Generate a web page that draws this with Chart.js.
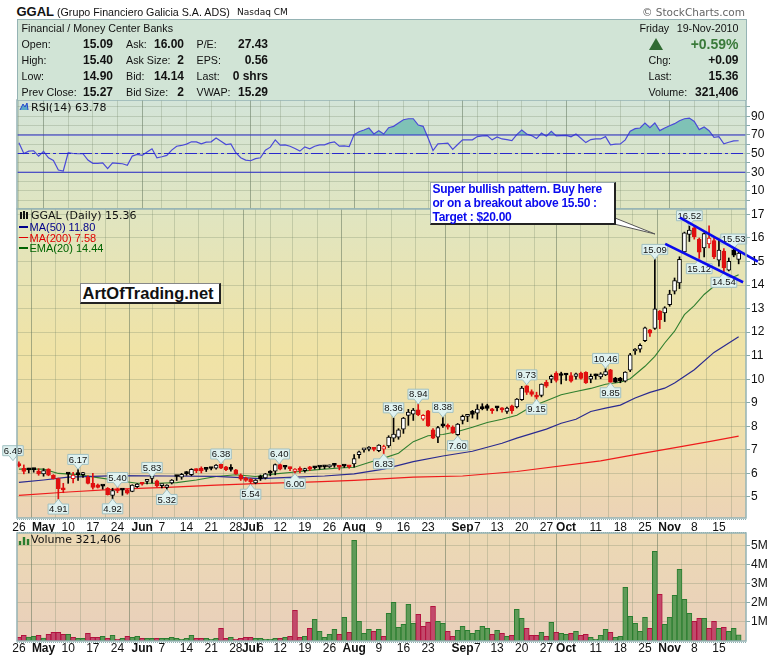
<!DOCTYPE html>
<html>
<head>
<meta charset="utf-8">
<title>GGAL</title>
<script src="https://cdn.jsdelivr.net/npm/chart.js@4"></script>
<style>
    html, body { margin: 0; padding: 0; background: #fff; }
    body { position: relative; width: 780px; height: 659px; overflow: hidden; font-family: "Liberation Sans", Arial, sans-serif; color: #111; }
    canvas { position: absolute; left: 0; }
    .t { position: absolute; white-space: nowrap; font-size: 10.7px; line-height: 14px; }
    .b { font-weight: bold; font-size: 12px; }
    .r { text-align: right; }
    .dv { font-family: "DejaVu Sans", sans-serif; }
    .dots { position: absolute; left: 17px; width: 729px; height: 0; border-top: 1px dotted #8fb0b0; }
</style>
</head>
<body>
<canvas id="rsi" width="780" height="130" style="top:90px"></canvas>
<canvas id="precio" width="780" height="335" style="top:199px"></canvas>
<canvas id="volumen" width="780" height="136" style="top:523px"></canvas>

<div class="dots" style="top:519px"></div>
<div class="dots" style="top:532px"></div>
<div class="dots" style="top:642px"></div>

<div id="cabecera"></div>

<div class="t dv" style="left:31px;top:101px;font-size:11px">RSI(14) 63.78</div>
<div class="t dv" style="left:31px;top:209px;font-size:11px">GGAL (Daily) 15.36</div>
<div class="t" style="left:29.5px;top:220px;font-size:11px;color:#00008b">MA(50) 11.80</div>
<div class="t" style="left:29.5px;top:230.5px;font-size:11px;color:#e00000">MA(200) 7.58</div>
<div class="t" style="left:29.5px;top:241px;font-size:11px;color:#006400">EMA(20) 14.44</div>
<div style="position:absolute;left:19px;top:226px;width:9px;height:1.5px;background:#00008b"></div>
<div style="position:absolute;left:19px;top:236.5px;width:9px;height:1.5px;background:#e00000"></div>
<div style="position:absolute;left:19px;top:247px;width:9px;height:1.5px;background:#006400"></div>
<div class="t dv" style="left:31px;top:533px;font-size:11px">Volume 321,406</div>

<svg style="position:absolute;left:0;top:0" width="780" height="659">
    <polyline points="20,110 23,104 25,107 27,103 28,110" fill="#5aa8c8" stroke="#2244cc" stroke-width="1"/>
    <path d="M21 212v7M24 211v8M27 212v7" stroke="#111" stroke-width="2"/>
    <path d="M20 545v-4M24 545v-8M28 545v-6" stroke="#2a7d2f" stroke-width="2.4"/>
    <polygon points="610,223 615,218 655,234" fill="#fff" stroke="#555" stroke-width="1"/>
</svg>

<div style="position:absolute;left:429.5px;top:181.5px;width:181px;height:40px;background:#fff;border:1px solid #9aa;border-right:2px solid #222;border-bottom:2px solid #222;padding:0 0 0 2px;color:#0a0aee;font-weight:bold;font-size:12px;letter-spacing:-0.28px;line-height:14px;white-space:nowrap"><div style="position:relative;top:-1px">Super bullish pattern. Buy here<br>or on a breakout above 15.50 :<br>Target : $20.00</div></div>
<div style="position:absolute;left:79.5px;top:282.5px;width:136px;height:18px;background:#fff;border:1px solid #888;border-right:2px solid #222;border-bottom:2px solid #222;font-weight:bold;font-size:16.5px;line-height:18px;padding-left:2px;white-space:nowrap;color:#111">ArtOfTrading.net</div>

<script>
// ==========================
// Datos
// ==========================

const opens = [
    6.38, 6.22, 6.20, 6.20, 6.10, 5.98, 6.18, 5.92, 5.78, 5.33,
    6.00, 5.78, 5.96, 5.95, 5.84, 5.58, 5.51, 5.47, 5.37, 5.07,
    5.33, 5.31, 5.30, 5.24, 5.44, 5.58, 5.66, 5.79, 5.68, 5.48,
    5.40, 5.60, 5.88, 5.84, 6.00, 5.95, 6.16, 6.23, 6.18, 6.22,
    6.22, 6.39, 6.28, 6.18, 6.15, 5.92, 5.80, 5.75, 5.60, 5.89,
    5.81, 6.03, 6.09, 6.38, 6.27, 6.22, 6.08, 6.15, 6.12, 6.28,
    6.25, 6.29, 6.29, 6.28, 6.35, 6.30, 6.32, 6.30, 6.40, 6.80,
    7.00, 7.03, 7.06, 6.97, 7.03, 7.17, 7.50, 7.54, 7.88, 8.46,
    8.52, 8.70, 8.30, 8.66, 7.85, 7.54, 8.03, 8.00, 7.96, 7.64,
    8.25, 8.42, 8.64, 8.56, 8.78, 8.88, 8.70, 8.80, 8.72, 8.63,
    8.87, 8.82, 9.13, 9.72, 9.48, 9.25, 9.31, 9.87, 10.00, 10.26,
    10.18, 10.20, 10.15, 10.12, 10.26, 10.29, 10.00, 10.15, 10.10, 10.18,
    10.40, 10.05, 10.05, 9.92, 10.38, 11.20, 11.28, 11.64, 12.10, 12.16,
    12.89, 12.82, 13.17, 13.74, 14.09, 15.41, 16.15, 16.43, 15.94, 15.58,
    15.75, 15.89, 15.06, 15.44, 14.63, 15.48, 15.09
];
const highs = [
    6.49, 6.36, 6.22, 6.22, 6.20, 6.20, 6.20, 5.95, 5.80, 5.58,
    6.02, 6.05, 6.17, 6.05, 5.90, 6.00, 5.55, 5.50, 5.40, 5.37,
    5.40, 5.33, 5.33, 5.52, 5.57, 5.60, 5.70, 5.83, 5.72, 5.52,
    5.52, 5.74, 5.92, 6.00, 6.08, 6.20, 6.20, 6.28, 6.20, 6.26,
    6.38, 6.40, 6.30, 6.38, 6.17, 5.98, 5.84, 5.78, 5.74, 5.93,
    6.00, 6.12, 6.40, 6.40, 6.30, 6.27, 6.20, 6.28, 6.22, 6.30,
    6.30, 6.30, 6.31, 6.36, 6.42, 6.33, 6.36, 6.32, 6.80, 6.95,
    7.04, 7.14, 7.08, 7.22, 7.20, 7.60, 8.36, 7.90, 8.38, 8.72,
    8.76, 8.94, 8.50, 8.68, 7.90, 8.00, 8.38, 8.10, 8.02, 8.12,
    8.48, 8.50, 8.68, 8.92, 8.96, 8.94, 8.76, 8.85, 8.80, 8.82,
    8.90, 9.18, 9.70, 9.73, 9.55, 9.45, 9.80, 9.95, 10.18, 10.32,
    10.30, 10.25, 10.28, 10.26, 10.30, 10.32, 10.22, 10.22, 10.28, 10.46,
    10.42, 10.08, 10.08, 10.32, 11.10, 11.30, 11.50, 12.22, 12.12, 15.09,
    12.92, 13.08, 13.78, 14.30, 15.20, 16.25, 16.52, 16.50, 16.00, 16.22,
    16.52, 15.98, 15.95, 15.55, 15.15, 15.53, 15.40
];
const lows = [
    6.28, 5.98, 6.02, 6.05, 5.92, 5.88, 5.90, 5.76, 4.91, 5.18,
    5.58, 5.60, 5.70, 5.83, 5.55, 5.33, 5.38, 5.33, 5.08, 4.92,
    5.18, 5.07, 5.12, 5.22, 5.40, 5.50, 5.55, 5.60, 5.42, 5.38,
    5.32, 5.55, 5.70, 5.75, 5.92, 5.90, 6.03, 6.02, 6.08, 6.15,
    6.18, 6.20, 6.12, 6.10, 5.96, 5.70, 5.66, 5.54, 5.56, 5.70,
    5.76, 5.90, 5.94, 6.15, 6.18, 6.12, 6.00, 6.02, 6.05, 6.12,
    6.18, 6.18, 6.20, 6.25, 6.26, 6.15, 6.25, 6.22, 6.26, 6.65,
    6.90, 6.96, 6.95, 6.92, 6.83, 7.10, 7.35, 7.45, 7.70, 8.04,
    8.25, 8.45, 8.25, 8.00, 7.48, 7.31, 7.95, 7.88, 7.70, 7.60,
    8.10, 8.20, 8.35, 8.30, 8.70, 8.68, 8.55, 8.65, 8.60, 8.55,
    8.55, 8.78, 9.10, 9.35, 9.28, 9.15, 9.25, 9.65, 9.85, 9.88,
    9.80, 9.95, 9.88, 10.00, 10.00, 9.82, 9.85, 10.00, 10.02, 10.15,
    9.85, 9.86, 9.85, 9.88, 10.32, 11.05, 11.15, 11.60, 11.82, 12.12,
    12.15, 12.45, 13.10, 13.62, 13.85, 15.35, 15.85, 15.95, 15.09, 15.20,
    15.58, 15.12, 14.80, 14.54, 14.60, 15.20, 14.90
];
const closes = [
    6.33, 6.08, 6.15, 6.16, 5.98, 6.12, 5.92, 5.78, 5.35, 5.30,
    5.97, 5.93, 5.95, 5.96, 5.58, 5.41, 5.40, 5.46, 5.10, 5.27,
    5.26, 5.29, 5.16, 5.50, 5.55, 5.54, 5.68, 5.80, 5.47, 5.49,
    5.50, 5.72, 5.87, 5.96, 5.99, 6.17, 6.12, 6.11, 6.17, 6.21,
    6.35, 6.22, 6.16, 6.17, 5.98, 5.75, 5.70, 5.64, 5.72, 5.78,
    5.98, 6.01, 6.38, 6.18, 6.26, 6.20, 6.18, 6.13, 6.20, 6.18,
    6.24, 6.27, 6.28, 6.33, 6.34, 6.27, 6.31, 6.28, 6.63, 6.92,
    7.01, 7.11, 7.02, 7.20, 7.14, 7.54, 7.67, 7.85, 8.35, 8.60,
    8.69, 8.49, 8.47, 8.02, 7.50, 7.95, 8.02, 7.96, 7.72, 8.09,
    8.42, 8.43, 8.50, 8.73, 8.75, 8.76, 8.66, 8.78, 8.70, 8.77,
    8.66, 9.16, 9.62, 9.44, 9.36, 9.24, 9.79, 9.70, 10.12, 9.95,
    10.16, 10.18, 9.92, 10.23, 10.03, 9.84, 10.12, 10.14, 10.23, 10.32,
    9.87, 9.88, 9.92, 10.30, 11.04, 11.28, 11.44, 12.18, 11.96, 12.99,
    12.53, 13.03, 13.62, 14.19, 15.09, 16.22, 16.33, 16.05, 15.40, 16.19,
    16.00, 15.20, 15.48, 14.73, 15.01, 15.27, 15.36
];

// volumen en millones
const volumes = [
    0.19, 0.30, 0.21, 0.25, 0.30, 0.16, 0.35, 0.46, 0.46, 0.35,
    0.35, 0.19, 0.14, 0.14, 0.40, 0.19, 0.19, 0.25, 0.14, 0.30,
    0.09, 0.14, 0.25, 0.19, 0.25, 0.14, 0.14, 0.14, 0.14, 0.14,
    0.14, 0.19, 0.14, 0.09, 0.14, 0.30, 0.14, 0.14, 0.14, 0.09,
    0.14, 0.67, 0.14, 0.19, 0.09, 0.14, 0.19, 0.19, 0.14, 0.14,
    0.09, 0.09, 0.14, 0.14, 0.19, 0.25, 1.61, 0.19, 0.25, 0.67,
    1.14, 0.51, 0.19, 0.35, 0.61, 0.35, 1.25, 0.46, 5.30, 1.04,
    0.40, 0.61, 0.51, 0.61, 0.25, 1.46, 2.04, 0.72, 0.88, 1.93,
    0.93, 1.40, 0.77, 0.98, 1.82, 1.04, 0.93, 0.51, 0.25, 0.56,
    0.77, 0.56, 0.40, 0.56, 0.77, 0.67, 0.35, 0.56, 0.40, 0.25,
    0.30, 1.67, 1.19, 0.67, 0.30, 0.30, 0.46, 0.25, 0.98, 0.46,
    0.40, 0.35, 0.40, 0.51, 0.30, 0.35, 0.19, 0.09, 0.30, 0.61,
    0.46, 0.19, 0.25, 2.82, 1.30, 0.93, 0.51, 1.25, 0.67, 4.72,
    2.46, 0.88, 1.25, 2.40, 3.77, 2.19, 1.46, 1.04, 1.19, 1.19,
    0.67, 1.04, 0.67, 0.72, 0.51, 0.67, 0.32
];

const rsiValues = [
    61.5, 50.1, 52.6, 53.0, 47.3, 52.3, 45.5, 42.7, 32.4, 31.3,
    50.9, 50.1, 49.8, 49.8, 43.0, 39.5, 39.5, 39.9, 33.8, 39.9,
    39.5, 39.1, 37.4, 47.3, 49.1, 48.0, 51.6, 55.1, 45.5, 46.6,
    48.0, 53.7, 57.9, 58.7, 60.1, 62.6, 62.6, 60.4, 62.2, 62.6,
    66.8, 63.3, 59.7, 60.4, 50.9, 45.5, 43.0, 42.3, 44.5, 45.5,
    53.7, 56.9, 64.7, 59.0, 59.4, 57.9, 55.5, 52.6, 57.2, 55.1,
    57.9, 59.4, 59.4, 61.5, 62.6, 57.9, 58.3, 57.6, 70.4, 73.5,
    75.3, 77.4, 71.0, 74.6, 71.0, 77.8, 79.2, 82.8, 86.3, 87.4,
    87.4, 80.6, 79.2, 66.8, 53.3, 60.4, 60.8, 61.1, 54.4, 59.7,
    64.7, 64.7, 64.7, 68.2, 68.9, 69.3, 64.7, 67.9, 65.7, 65.0,
    64.0, 70.4, 75.3, 71.0, 69.3, 66.1, 72.1, 68.6, 73.9, 68.9,
    69.3, 69.6, 67.9, 71.0, 66.5, 61.8, 65.0, 65.7, 65.7, 68.2,
    59.4, 60.1, 60.4, 64.7, 73.9, 76.7, 77.4, 82.8, 77.8, 82.8,
    74.6, 77.4, 79.9, 82.1, 85.2, 87.4, 88.1, 84.5, 75.7, 78.5,
    74.6, 67.5, 68.2, 60.4, 62.2, 63.6, 63.78
];

const emaDays = [0, 5, 8, 12, 16, 20, 24, 28, 32, 36, 40, 44, 48, 52, 55, 60, 65, 68, 71, 74, 77, 80, 83, 86, 89, 92, 95, 98, 101, 104, 107, 110, 113, 116, 119, 122, 124, 127, 129, 131, 133, 135, 137, 139, 141, 143, 146];
const emaValues = [6.18, 6.18, 6.00, 5.95, 5.82, 5.70, 5.58, 5.58, 5.61, 5.72, 5.87, 5.94, 5.87, 5.98, 6.04, 6.15, 6.23, 6.26, 6.46, 6.65, 6.86, 7.35, 7.60, 7.65, 7.78, 7.96, 8.16, 8.30, 8.47, 8.84, 9.09, 9.34, 9.48, 9.61, 9.79, 9.87, 10.02, 10.55, 10.97, 11.54, 12.04, 12.74, 13.13, 13.60, 13.95, 14.16, 14.44];
const ma50Days = [0, 5, 10, 20, 30, 40, 49, 56, 62, 68, 74, 80, 86, 92, 98, 101, 107, 110, 113, 116, 119, 122, 125, 128, 131, 133, 137, 141, 146];
const ma50Values = [5.62, 5.72, 5.84, 5.91, 5.89, 5.87, 5.78, 5.84, 5.89, 5.98, 6.18, 6.50, 6.74, 6.94, 7.28, 7.50, 7.88, 8.13, 8.30, 8.63, 8.77, 8.90, 9.20, 9.44, 9.62, 9.84, 10.40, 11.14, 11.80];
const ma200Days = [0, 10, 20, 30, 40, 48, 60, 68, 80, 90, 101, 118, 125, 134, 140, 146];
const ma200Values = [5.07, 5.21, 5.33, 5.41, 5.50, 5.57, 5.64, 5.70, 5.84, 5.89, 6.08, 6.53, 6.80, 7.13, 7.35, 7.58];

// canales dibujados a mano sobre el grafico
const upperTrendDays = [134.1, 149.9];
const upperTrendValues = [16.86, 14.99];
const lowerTrendDays = [131.1, 146.9];
const lowerTrendValues = [15.75, 14.12];

// etiquetas de precio
const calloutTexts = ['6.49', '6.17', '5.40', '5.83', '6.38', '4.91', '4.92', '5.32', '5.54', '6.40', '6.00', '6.83', '8.36', '8.94', '8.38', '7.60', '9.73', '9.15', '10.46', '9.85', '15.09', '16.52', '15.12', '14.54', '15.53'];
const calloutDays = [-1.2, 12, 20, 27, 41, 8, 19, 30, 47, 52.8, 56, 74, 76, 81, 86, 89, 103, 105, 119, 120, 129, 136, 138, 143, 145];
const calloutPrices = [6.54, 6.17, 5.40, 5.83, 6.40, 4.91, 4.92, 5.32, 5.54, 6.40, 6.00, 6.83, 8.36, 8.94, 8.38, 7.60, 9.76, 9.15, 10.46, 9.85, 15.09, 16.52, 15.12, 14.54, 15.53];
const calloutBelow = [false, false, false, false, false, true, true, true, true, false, true, true, false, false, false, true, false, true, false, true, false, false, true, true, false];

// eje de fechas
const tickDays = [0, 5, 10, 15, 20, 25, 29, 34, 39, 44, 47, 49, 53, 58, 63, 68, 73, 78, 83, 90, 93, 97, 102, 107, 111, 117, 122, 127, 132, 137, 142];
const tickLabels = ['26', 'May', '10', '17', '24', 'Jun', '7', '14', '21', '28', 'Jul', '6', '12', '19', '26', 'Aug', '9', '16', '23', 'Sep', '7', '13', '20', '27', 'Oct', '11', '18', '25', 'Nov', '8', '15'];
const monthLabels = ['May', 'Jun', 'Jul', 'Aug', 'Sep', 'Oct', 'Nov'];

const priceTicks = [5, 6, 7, 8, 9, 10, 11, 12, 13, 14, 15, 16, 17];
const rsiTicks = [0, 10, 20, 30, 40, 50, 60, 70, 80, 90, 100];
const rsiLabels = [10, 30, 50, 70, 90];
const volumeTicks = [1, 2, 3, 4, 5];

// ==========================
// Cabecera
// ==========================

const leftRows = [
    [44, 'Open:', '15.09', 'Ask:', '16.00', 'P/E:', '27.43'],
    [60, 'High:', '15.40', 'Ask Size:', '2', 'EPS:', '0.56'],
    [76, 'Low:', '14.90', 'Bid:', '14.14', 'Last:', '0 shrs'],
    [92, 'Prev Close:', '15.27', 'Bid Size:', '2', 'VWAP:', '15.29']
];
const rightRows = [
    [60, 'Chg:', '+0.09'],
    [76, 'Last:', '15.36'],
    [92, 'Volume:', '321,406']
];

function pintarCabecera() {
    let html = '';
    const texto = (x, y, s, clase = '', extra = '') =>
        `<div class="t ${clase}" style="left:${x}px;top:${y - 7}px;${extra}">${s}</div>`;
    const derecha = (x, y, s, clase = '', extra = '') =>
        `<div class="t r ${clase}" style="right:${780 - x}px;top:${y - 7}px;${extra}">${s}</div>`;

    html += `<div style="position:absolute;left:16.5px;top:19px;width:728px;height:80px;background:#d1e4d6;border:1.5px solid #95b3b4;border-bottom:0"></div>`;
    html += texto(16.5, 11.5, 'GGAL', '', 'font-weight:bold;font-size:13px;');
    html += texto(57, 11.5, '(Grupo Financiero Galicia S.A. ADS)');
    html += texto(237, 12, 'Nasdaq CM', 'dv', 'font-size:9px;');
    html += derecha(745, 11.5, '© StockCharts.com', 'dv', 'font-size:10.5px;color:#666;');
    html += texto(21.5, 28, 'Financial / Money Center Banks');

    leftRows.forEach(f => {
        html += texto(21.5, f[0], f[1]);
        html += derecha(113, f[0], f[2], 'b');
        html += texto(126, f[0], f[3]);
        html += derecha(184, f[0], f[4], 'b');
        html += texto(196.5, f[0], f[5]);
        html += derecha(268, f[0], f[6], 'b');
    });

    html += texto(639.5, 28, 'Friday');
    html += derecha(738.5, 28, '19-Nov-2010');
    html += derecha(738.5, 44, '+0.59%', 'b', 'font-size:14px;color:#3a7a3a;');
    html += `<div style="position:absolute;left:649px;top:37.5px;width:0;height:0;border-left:7px solid transparent;border-right:7px solid transparent;border-bottom:12.5px solid #2f6a32"></div>`;
    rightRows.forEach(f => {
        html += texto(648.5, f[0], f[1]);
        html += derecha(738.5, f[0], f[2], 'b');
    });
    document.getElementById('cabecera').innerHTML = html;
}
pintarCabecera();

// ==========================
// Opciones comunes
// ==========================

const X_MIN = -0.385;
const X_MAX = 147.49;
const AXIS_WIDTH = 34;

const RED = '#e01010';
const isDown = closes.map((c, i) => i === 0 || c < closes[i - 1]);

function ejeX(conEtiquetas, altura, separacion) {
    return {
        type: 'linear',
        offset: false,
        min: X_MIN,
        max: X_MAX,
        afterBuildTicks: axis => { axis.ticks = tickDays.map(value => ({ value })); },
        afterFit: axis => { axis.height = altura; },
        border: { display: false },
        grid: {
            drawTicks: false,
            color: ctx => monthLabels.includes(tickLabels[ctx.index]) ? 'rgba(90,110,85,0.5)' : 'rgba(110,130,100,0.27)'
        },
        ticks: {
            display: conEtiquetas,
            autoSkip: false,
            maxRotation: 0,
            padding: separacion,
            color: '#111',
            font: ctx => monthLabels.includes(tickLabels[ctx.index])
                ? { family: 'Liberation Sans', size: 12, weight: 'bold' }
                : { family: 'Liberation Sans', size: 12 },
            callback: (v, i) => tickLabels[i]
        }
    };
}

function ejeY(min, max, ticks, etiqueta) {
    return {
        position: 'right',
        min,
        max,
        afterBuildTicks: axis => { axis.ticks = ticks.map(value => ({ value })); },
        afterFit: axis => { axis.width = AXIS_WIDTH; },
        border: { display: false },
        grid: { color: 'rgba(110,130,100,0.27)', tickLength: 4, tickColor: '#8aa' },
        ticks: {
            autoSkip: false,
            padding: 1,
            color: '#111',
            font: { family: 'Liberation Sans', size: 12 },
            callback: etiqueta
        }
    };
}

// fondo con degradado, en coordenadas de pagina
function fondo(top, stops) {
    return {
        id: 'fondo',
        beforeDraw(chart) {
            const { ctx, chartArea: a, canvas } = chart;
            const g = ctx.createLinearGradient(0, top - canvas.offsetTop, 0, top - canvas.offsetTop + stops.alto);
            stops.colores.forEach(s => g.addColorStop(s[0], s[1]));
            ctx.fillStyle = g;
            ctx.fillRect(a.left, a.top, a.right - a.left, a.bottom - a.top);
        }
    };
}

const marco = {
    id: 'marco',
    afterDraw(chart) {
        const { ctx, chartArea: a } = chart;
        ctx.save();
        ctx.strokeStyle = '#95b3b4';
        ctx.lineWidth = 1.5;
        ctx.strokeRect(a.left, a.top, a.right - a.left, a.bottom - a.top);
        ctx.restore();
    }
};

const degradadoSuperior = {
    alto: 418,
    colores: [[0, '#d3e4d8'], [0.25, '#dfe5c2'], [0.6, '#f0e3a6'], [0.8, '#efdfac'], [1, '#ecd3b6']]
};

function puntos(dias, valores) {
    return dias.map((d, i) => ({ x: d, y: valores[i] }));
}

function linea(dias, valores, color, ancho, orden) {
    return {
        type: 'line',
        data: puntos(dias, valores),
        borderColor: color,
        borderWidth: ancho,
        pointRadius: 0,
        tension: 0,
        order: orden
    };
}

// ==========================
// RSI
// ==========================

new Chart(document.getElementById('rsi'), {
    type: 'line',
    data: {
        datasets: [
            {
                data: rsiValues.map((v, i) => ({ x: i, y: v })),
                borderColor: '#4a4ad8',
                borderWidth: 1.2,
                pointRadius: 0,
                tension: 0,
                fill: { target: { value: 70 }, above: '#7fc2b6', below: 'rgba(0,0,0,0)' },
                order: 1
            },
            linea([X_MIN, X_MAX], [70, 70], '#2a2acc', 1.1, 0),
            linea([X_MIN, X_MAX], [30, 30], '#2a2acc', 1.1, 0),
            Object.assign(linea([X_MIN, X_MAX], [50, 50], '#2a2acc', 1.1, 0), { borderDash: [12, 3, 3, 3] })
        ]
    },
    options: {
        responsive: false,
        animation: false,
        layout: { padding: { left: 17, top: 10, bottom: 11 } },
        plugins: { legend: { display: false }, tooltip: { enabled: false } },
        scales: {
            x: ejeX(false, 0, 0),
            y: ejeY(-9.5, 107.5, rsiTicks, v => rsiLabels.includes(v) ? String(v) : '')
        }
    },
    plugins: [fondo(100, degradadoSuperior), marco]
});

// ==========================
// Precio
// ==========================

// se pinta justo despues de las velas, antes de los canales
const etiquetasPrecio = {
    id: 'etiquetasPrecio',
    afterDatasetDraw(chart, args) {
        if (args.index !== 0) return;
        const { ctx, scales: { x, y } } = chart;
        ctx.save();
        ctx.font = '9.5px "Liberation Sans"';
        ctx.textAlign = 'center';
        ctx.textBaseline = 'middle';
        calloutTexts.forEach((t, i) => {
            const px = x.getPixelForValue(calloutDays[i]);
            const py = y.getPixelForValue(calloutPrices[i]);
            const dir = calloutBelow[i] ? 1 : -1;
            const w = ctx.measureText(t).width + 2;
            const h = 10;
            const top = dir > 0 ? py + 5 : py - 5 - h;
            const edge = dir > 0 ? top : top + h;
            ctx.beginPath();
            ctx.moveTo(px - w / 2, top);
            if (dir > 0) {
                ctx.lineTo(px - 4, edge);
                ctx.lineTo(px, py);
                ctx.lineTo(px + 4, edge);
            }
            ctx.lineTo(px + w / 2, top);
            ctx.lineTo(px + w / 2, top + h);
            if (dir < 0) {
                ctx.lineTo(px + 4, edge);
                ctx.lineTo(px, py);
                ctx.lineTo(px - 4, edge);
            }
            ctx.lineTo(px - w / 2, top + h);
            ctx.closePath();
            ctx.fillStyle = '#e0f2f0';
            ctx.strokeStyle = '#a0c0c2';
            ctx.lineWidth = 1;
            ctx.fill();
            ctx.stroke();
            ctx.fillStyle = '#111';
            ctx.fillText(t, px, top + h / 2 + 0.5);
        });
        ctx.restore();
    }
};

new Chart(document.getElementById('precio'), {
    type: 'bar',
    data: {
        datasets: [
            {
                data: closes.map((c, i) => ({ x: i, y: [opens[i], c] })),
                grouped: false,
                barThickness: 4,
                minBarLength: 2,
                borderWidth: 1,
                borderSkipped: false,
                borderColor: isDown.map(d => d ? RED : '#000'),
                backgroundColor: closes.map((c, i) => c >= opens[i] ? '#fff' : (isDown[i] ? RED : '#000')),
                order: 2
            },
            {
                data: closes.map((c, i) => ({ x: i, y: [lows[i], highs[i]] })),
                grouped: false,
                barThickness: 1,
                borderWidth: 0,
                backgroundColor: isDown.map(d => d ? RED : '#000'),
                order: 3
            },
            linea(ma200Days, ma200Values, '#ee1c1c', 1.2, 4),
            linea(ma50Days, ma50Values, '#2a2a90', 1.2, 4),
            linea(emaDays, emaValues, '#2f7f2f', 1.1, 4),
            Object.assign(linea(upperTrendDays, upperTrendValues, '#0a0aee', 2.6, 0), { clip: false }),
            Object.assign(linea(lowerTrendDays, lowerTrendValues, '#0a0aee', 2.6, 0), { clip: false })
        ]
    },
    options: {
        responsive: false,
        animation: false,
        layout: { padding: { left: 17, top: 10 } },
        plugins: { legend: { display: false }, tooltip: { enabled: false } },
        scales: {
            x: ejeX(true, 16, 2),
            y: ejeY(4.106, 17.23, priceTicks, v => String(v))
        }
    },
    plugins: [fondo(100, degradadoSuperior), marco, etiquetasPrecio]
});

// ==========================
// Volumen
// ==========================

new Chart(document.getElementById('volumen'), {
    type: 'bar',
    data: {
        datasets: [{
            data: volumes.map((v, i) => ({ x: i, y: v })),
            barThickness: 5,
            borderWidth: 1,
            borderSkipped: false,
            borderColor: isDown.map(d => d ? '#b3123f' : '#2a7d2f'),
            backgroundColor: isDown.map(d => d ? '#c2496b' : '#5f9a58')
        }]
    },
    options: {
        responsive: false,
        animation: false,
        layout: { padding: { left: 17, top: 10 } },
        plugins: { legend: { display: false }, tooltip: { enabled: false } },
        scales: {
            x: ejeX(true, 18, 0),
            y: ejeY(0, 5.68, volumeTicks, v => v + 'M')
        }
    },
    plugins: [fondo(533, { alto: 108, colores: [[0, '#ecd9b4'], [1, '#e9cfbb']] }), marco]
});
</script>
</body>
</html>
